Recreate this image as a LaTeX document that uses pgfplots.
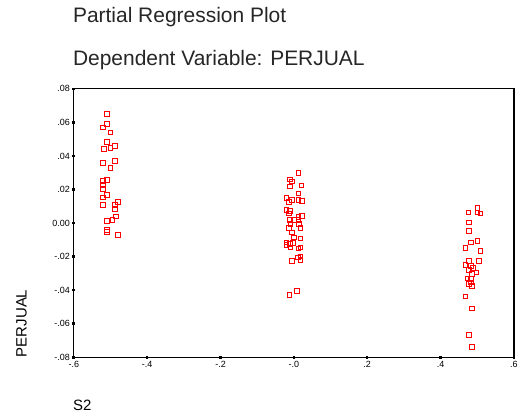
\documentclass[border=0pt]{standalone}
\usepackage{fontspec}
\setmainfont{Liberation Sans}
\usepackage{pgfplots}
\pgfplotsset{compat=1.18}
\usetikzlibrary{calc}

\begin{document}
\begin{tikzpicture}
\begin{axis}[
    scale only axis,
    width=441pt, height=269pt,
    xmin=-0.6, xmax=0.6, ymin=-0.08, ymax=0.08,
    clip=false,
    scaled y ticks=false, scaled x ticks=false,
    axis line style={black, line width=1.2pt},
    xtick={-0.6,-0.4,-0.2,0,0.2,0.4,0.6},
    xticklabels={-.6,-.4,-.2,-.0,.2,.4,.6},
    ytick={-0.08,-0.06,-0.04,-0.02,0,0.02,0.04,0.06,0.08},
    yticklabels={-.08,-.06,-.04,-.02,0.00,.02,.04,.06,.08},
    tick align=center,
    major tick length=3pt,
    every tick/.style={black, line width=2.5pt},
    xtick pos=bottom, ytick pos=left,
    tick label style={font=\fontsize{9}{10}\selectfont},
    xticklabel style={yshift=1pt},
    yticklabel style={xshift=1pt},
    /pgf/number format/assume math mode=true,
    xlabel={S2},
    ylabel={PERJUAL},
    every axis x label/.style={at={($(rel axis cs:0,0)+(-1pt,-43pt)$)}, anchor=north west, inner sep=0pt, font=\fontsize{15}{17}\selectfont},
    every axis y label/.style={at={($(rel axis cs:0,0)+(-47pt,0pt)$)}, anchor=south west, rotate=90, inner sep=0pt, font=\fontsize{15}{17}\selectfont},
    pts/.style={only marks, mark=square, mark size=2.3pt, color=red, draw=red,
        mark options={draw=red, fill=none, line width=0.9pt}},
]
% S2 about -0.5
\addplot[pts] coordinates {
(-0.509,0.0651) (-0.509,0.0591) (-0.520,0.0569) (-0.500,0.0541) (-0.509,0.0482)
(-0.518,0.0442) (-0.500,0.0448) (-0.488,0.0461) (-0.520,0.0358) (-0.488,0.0370)
(-0.500,0.0327) (-0.520,0.0253) (-0.509,0.0258) (-0.520,0.0223) (-0.520,0.0203)
(-0.509,0.0169) (-0.520,0.0153) (-0.520,0.0109) (-0.480,0.0127) (-0.488,0.0107)
(-0.488,0.0084) (-0.486,0.0040) (-0.495,0.0020) (-0.509,0.0014) (-0.509,-0.0040)
(-0.509,-0.0052) (-0.480,-0.0070)
};
% S2 about 0
\addplot[pts] coordinates {
(0.012,0.0297) (-0.011,0.0259) (-0.005,0.0247) (-0.011,0.0219) (0.021,0.0223)
(0.012,0.0177) (-0.020,0.0149) (-0.014,0.0127) (-0.005,0.0137) (0.012,0.0137)
(0.022,0.0130) (-0.020,0.0078) (-0.011,0.0073) (-0.014,0.0058) (0.022,0.0044)
(0.012,0.0038) (-0.011,0.0020) (0.000,0.0020) (0.012,0.0020) (-0.009,-0.0006)
(0.014,-0.0006) (-0.014,-0.0030) (0.018,-0.0030) (-0.005,-0.0056) (0.000,-0.0085)
(0.018,-0.0091) (-0.020,-0.0115) (-0.011,-0.0125) (-0.002,-0.0119) (-0.009,-0.0145)
(0.012,-0.0151) (0.018,-0.0145) (-0.020,-0.0131) (0.011,-0.0205) (-0.005,-0.0225)
(0.018,-0.0221) (0.018,-0.0199) (-0.012,-0.0428) (0.009,-0.0404)
};
% S2 about 0.5
\addplot[pts] coordinates {
(0.500,0.0090) (0.509,0.0058) (0.500,0.0064) (0.476,0.0064) (0.478,0.0004)
(0.478,-0.0046) (0.482,-0.0115) (0.500,-0.0106) (0.468,-0.0149) (0.509,-0.0165)
(0.478,-0.0225) (0.505,-0.0225) (0.468,-0.0251) (0.482,-0.0255) (0.489,-0.0269)
(0.478,-0.0281) (0.498,-0.0294) (0.486,-0.0304) (0.473,-0.0330) (0.482,-0.0334)
(0.482,-0.0354) (0.485,-0.0374) (0.478,-0.0364) (0.468,-0.0438) (0.485,-0.0508)
(0.478,-0.0667) (0.485,-0.0738)
};
% titles
\node[anchor=base west, inner sep=0pt, font=\fontsize{21}{24}\selectfont, text=black!85]
    at ($(rel axis cs:0,1)+(-1pt,66pt)$) {Partial Regression Plot};
\node[anchor=base west, inner sep=0pt, font=\fontsize{21}{24}\selectfont, text=black!85]
    at ($(rel axis cs:0,1)+(-1pt,23pt)$) {Dependent Variable: PERJUAL};
% page size
\path ($(rel axis cs:0,0)+(-74pt,-59pt)$) rectangle ($(rel axis cs:1,1)+(6pt,89pt)$);
\end{axis}
\end{tikzpicture}
\end{document}
